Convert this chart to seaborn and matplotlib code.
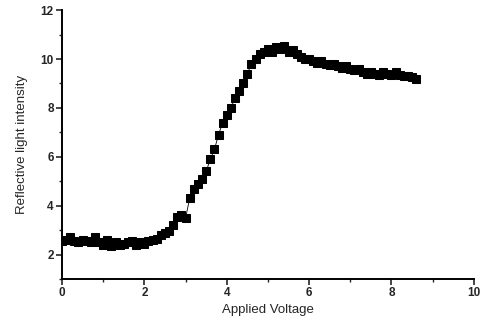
import matplotlib
matplotlib.use("Agg")
import matplotlib.pyplot as plt
import seaborn as sns
import pandas as pd
from matplotlib.ticker import MultipleLocator

voltage = [0.0, 0.1, 0.2, 0.3, 0.4, 0.5, 0.6, 0.7, 0.8, 0.9,
           1.0, 1.1, 1.2, 1.3, 1.4, 1.5, 1.6, 1.7, 1.8, 1.9,
           2.0, 2.1, 2.2, 2.3, 2.4, 2.5, 2.6, 2.7, 2.8, 2.9,
           3.0, 3.1, 3.2, 3.3, 3.4, 3.5, 3.6, 3.7, 3.8, 3.9,
           4.0, 4.1, 4.2, 4.3, 4.4, 4.5, 4.6, 4.7, 4.8, 4.9,
           5.0, 5.1, 5.2, 5.3, 5.4, 5.5, 5.6, 5.7, 5.8, 5.9,
           6.0, 6.1, 6.2, 6.3, 6.4, 6.5, 6.6, 6.7, 6.8, 6.9,
           7.0, 7.1, 7.2, 7.3, 7.4, 7.5, 7.6, 7.7, 7.8, 7.9,
           8.0, 8.1, 8.2, 8.3, 8.4, 8.5, 8.6]
intensity = [2.55, 2.6, 2.7, 2.55, 2.5, 2.6, 2.55, 2.5, 2.7, 2.5,
             2.4, 2.6, 2.35, 2.5, 2.4, 2.45, 2.5, 2.55, 2.4, 2.5,
             2.45, 2.55, 2.6, 2.65, 2.8, 2.9, 2.95, 3.2, 3.55, 3.6,
             3.5, 4.3, 4.7, 4.9, 5.1, 5.4, 5.9, 6.3, 6.9, 7.4,
             7.7, 8.0, 8.4, 8.7, 9.0, 9.4, 9.8, 10.0, 10.2, 10.3,
             10.4, 10.3, 10.5, 10.4, 10.55, 10.3, 10.35, 10.2, 10.1, 10.0,
             10.0, 9.9, 9.85, 9.9, 9.8, 9.75, 9.8, 9.7, 9.65, 9.7,
             9.6, 9.55, 9.6, 9.45, 9.4, 9.45, 9.4, 9.35, 9.45, 9.4,
             9.35, 9.45, 9.35, 9.3, 9.3, 9.25, 9.2]

df = pd.DataFrame({"Applied Voltage": voltage, "Reflective light intensity": intensity})

sns.set_style("ticks")
plt.rcParams['font.family'] = ['Liberation Sans', 'DejaVu Sans']

fig = plt.figure(figsize=(4.86, 3.26), dpi=100)
ax = fig.add_axes([0.1276, 0.144, 0.8474, 0.825])

sns.lineplot(data=df, x="Applied Voltage", y="Reflective light intensity", ax=ax,
             color="black", linewidth=0.6, marker="s", markersize=5.5,
             markeredgecolor="black", markerfacecolor="black")

ax.set_xlim(0, 10)
ax.set_ylim(1, 12)
ax.xaxis.set_major_locator(MultipleLocator(2))
ax.xaxis.set_minor_locator(MultipleLocator(1))
ax.yaxis.set_major_locator(MultipleLocator(2))
ax.yaxis.set_minor_locator(MultipleLocator(1))
ax.tick_params(which="major", direction="out", length=4, width=1.2, labelsize=8.5, pad=2)
ax.tick_params(which="minor", direction="out", length=2.5, width=1.0)
for lbl in ax.get_xticklabels() + ax.get_yticklabels():
    lbl.set_fontweight("bold")
for s in ["top", "right"]:
    ax.spines[s].set_visible(False)
for s in ["left", "bottom"]:
    ax.spines[s].set_linewidth(1.4)
    ax.spines[s].set_color("black")

ax.set_xlabel("Applied Voltage", fontsize=9.5, labelpad=3)
ax.set_ylabel("Reflective light intensity", fontsize=9.5, labelpad=9)

fig.savefig("out.png", dpi=100)
